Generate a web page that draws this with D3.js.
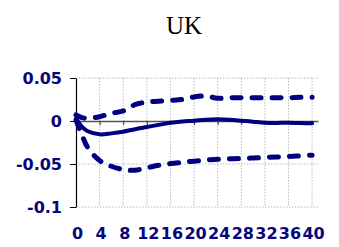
<!DOCTYPE html>
<html>
<head>
<meta charset="utf-8">
<script src="https://cdn.jsdelivr.net/npm/d3@7"></script>
<style>
  body { margin: 0; background: #fff; }
  .tick text { font-family: "DejaVu Sans", sans-serif; font-weight: bold; fill: #06067a; }
</style>
</head>
<body>
<div class="svg-container"></div>
<script>
// horizons
const periods = [0, 1, 2, 4, 6, 8, 10, 12, 14, 16, 18, 20, 22, 24, 26, 28, 30, 32, 34, 36, 38, 40];
const response = [0.003, -0.0066, -0.012, -0.0155, -0.0144, -0.0125, -0.0095, -0.007, -0.0045, -0.002, -0.0005, 0.0004, 0.0015, 0.002, 0.0015, 0.0004, -0.0008, -0.002, -0.0022, -0.002, -0.0024, -0.0027];
const upperBand = [0.007, 0.004, 0.003, 0.005, 0.009, 0.0117, 0.019, 0.022, 0.023, 0.024, 0.025, 0.028, 0.029, 0.0265, 0.027, 0.027, 0.027, 0.027, 0.027, 0.027, 0.0275, 0.0276];
const lowerBand = [0.001, -0.016, -0.031, -0.046, -0.0526, -0.0565, -0.0572, -0.0545, -0.0514, -0.0495, -0.048, -0.0467, -0.0455, -0.0444, -0.044, -0.0436, -0.043, -0.0424, -0.0418, -0.0413, -0.0405, -0.0397];
const xTicks = [0, 4, 8, 12, 16, 20, 24, 28, 32, 36, 40];
const yTicks = [0.05, 0, -0.05, -0.1];
const yTickLabels = ["0.05", "0", "-0.05", "-0.1"];

let width = 339, height = 247;
let navy = "#000080";

let svg = d3.select(".svg-container").append("svg")
  .attr("width", width)
  .attr("height", height);

let x = d3.scaleLinear().domain([0, 41]).range([76, 318]);
let y = d3.scaleLinear().domain([-0.1, 0.05]).range([207, 78]);

// title
svg.append("text")
  .attr("x", 184)
  .attr("y", 34)
  .attr("text-anchor", "middle")
  .style("font-family", "Liberation Serif, serif")
  .style("font-size", "25px")
  .text("UK");

// dotted grid
svg.append("g")
  .selectAll("line")
  .data(yTicks.filter(d => d !== 0))
  .enter().append("line")
  .attr("x1", x(0)).attr("x2", x(41))
  .attr("y1", d => y(d)).attr("y2", d => y(d))
  .attr("stroke", "#bbb")
  .attr("stroke-dasharray", "1.5,1.5");

svg.append("g")
  .selectAll("line")
  .data(xTicks.filter(d => d !== 0))
  .enter().append("line")
  .attr("x1", d => x(d)).attr("x2", d => x(d))
  .attr("y1", y(0.05)).attr("y2", y(-0.1))
  .attr("stroke", "#bbb")
  .attr("stroke-dasharray", "1.5,1.5");

// zero line with small ticks
let zeroAxis = svg.append("g")
  .attr("transform", "translate(0," + y(0) + ")")
  .call(d3.axisBottom(x).tickValues(xTicks.filter(d => d !== 0)).tickSize(4).tickFormat("").tickSizeOuter(0));
zeroAxis.select(".domain").attr("stroke", "#555").attr("stroke-width", 1.5);
zeroAxis.selectAll(".tick line").attr("stroke", "#333");

// y axis
let yAxis = svg.append("g")
  .attr("transform", "translate(" + x(0) + ",0)")
  .call(d3.axisLeft(y).tickValues(yTicks).tickSize(6).tickSizeOuter(0)
    .tickFormat((d, i) => yTickLabels[i]));
yAxis.select(".domain").attr("stroke", "#000").attr("stroke-width", 1.2);
yAxis.selectAll(".tick text")
  .attr("x", -14)
  .style("font-size", "16px");

// x tick labels along the bottom
let xLabels = svg.append("g")
  .attr("transform", "translate(1,228)")
  .call(d3.axisBottom(x).tickValues(xTicks).tickSize(0).tickPadding(0));
xLabels.select(".domain").remove();
xLabels.selectAll(".tick text")
  .style("font-size", "16px");

// lines
let line = d3.line()
  .x((d, i) => x(periods[i]))
  .y(d => y(d))
  .curve(d3.curveCatmullRom);

svg.append("path")
  .datum(upperBand)
  .attr("d", line)
  .attr("fill", "none")
  .attr("stroke", navy)
  .attr("stroke-width", 5)
  .attr("stroke-linecap", "round")
  .attr("stroke-dasharray", "9,11");

svg.append("path")
  .datum(lowerBand)
  .attr("d", line)
  .attr("fill", "none")
  .attr("stroke", navy)
  .attr("stroke-width", 5)
  .attr("stroke-linecap", "round")
  .attr("stroke-dasharray", "9,11");

svg.append("path")
  .datum(response)
  .attr("d", line)
  .attr("fill", "none")
  .attr("stroke", navy)
  .attr("stroke-width", 4)
  .attr("stroke-linecap", "round");
</script>
</body>
</html>
